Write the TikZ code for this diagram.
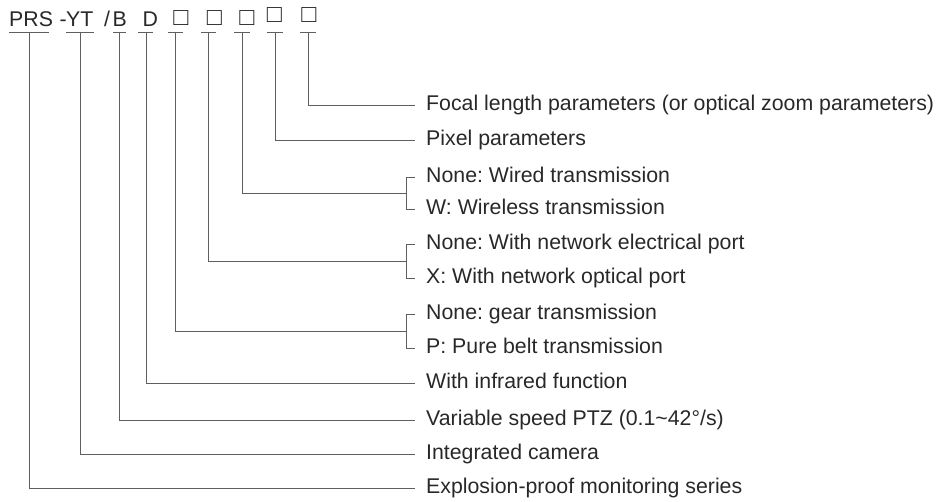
\documentclass[tikz,border=0pt]{standalone}
\usepackage{fontspec}
\setmainfont{Liberation Sans}
\usetikzlibrary{calc}
\definecolor{txt}{RGB}{40,40,40}
\definecolor{ln}{RGB}{95,95,95}
\frenchspacing
\begin{document}
\begin{tikzpicture}[x=1pt,y=-1pt,
  lab/.style={anchor=west, inner xsep=11pt, inner ysep=0pt, text height=11pt, text depth=0pt, font=\fontsize{21.3}{24}\selectfont\frenchspacing, text=txt},
  tok/.style={anchor=base west, inner sep=0pt, font=\fontsize{21.3}{24}\selectfont, text=txt},
  boxch/.style={anchor=center, inner sep=0pt, font=\fontsize{25}{28}\selectfont, text=txt},
  wire/.style={draw=ln, line width=0.9pt}]
\useasboundingbox (0,0) rectangle (936,501);
% top code
\node[tok] (t1) at (9,26) {PRS};
\node[tok] (t2) at (59.5,26) {-};
\node[tok] (t3) at (66,26) {YT};
\node[tok] (t4) at (104,26) {/};
\node[tok] (t5) at (112.5,26) {B};
\node[tok] (t6) at (142.5,26) {D};
\node[boxch] (b1) at (181,18.5) {□};
\node[boxch] (b2) at (214.5,18.5) {□};
\node[boxch] (b3) at (247,18.5) {□};
\node[boxch] (b4) at (274.5,15.5) {□};
\node[boxch] (b5) at (309,15.5) {□};
% stems
\coordinate (s1) at (29,32);
\coordinate (s2) at (80,32);
\coordinate (s3) at (119,32);
\coordinate (s4) at (146,32);
\coordinate (s5) at (175.5,32);
\coordinate (s6) at (208.5,32);
\coordinate (s7) at (242,32);
\coordinate (s8) at (275,32);
\coordinate (s9) at (308,32);
% underlines
\draw[wire] (9,32) -- (49,32);
\draw[wire] (66,32) -- (94,32);
\draw[wire] (113,32) -- (126,32);
\draw[wire] (138,32) -- (153,32);
\draw[wire] (168,32) -- (183,32);
\draw[wire] (201,32) -- (216,32);
\draw[wire] (234,32) -- (250,32);
\draw[wire] (267,32) -- (283,32);
\draw[wire] (300,32) -- (316,32);
% labels
\node[lab] (l9) at (415,105) {Focal length parameters (or optical zoom parameters)};
\node[lab] (l8) at (415,140) {Pixel parameters};
\node[lab] (l7a) at (415,177) {None: Wired transmission};
\node[lab] (l7b) at (415,209) {W: Wireless transmission};
\node[lab] (l6a) at (415,244) {None: With network electrical port};
\node[lab] (l6b) at (415,278) {X: With network optical port};
\node[lab] (l5a) at (415,314) {None: gear transmission};
\node[lab] (l5b) at (415,348) {P: Pure belt transmission};
\node[lab] (l4) at (415,383) {With infrared function};
\node[lab] (l3) at (415,420) {Variable speed PTZ (0.1\textasciitilde42°/s)};
\node[lab] (l2) at (415,454) {Integrated camera};
\node[lab] (l1) at (415,488) {Explosion-proof monitoring series};
% connectors
\draw[wire] (s9) |- (l9.west);
\draw[wire] (s8) |- (l8.west);
\draw[wire] (l7a.west) -- ++(-9,0) |- (l7b.west);
\draw[wire] (s7) |- ($(l7a.west)!.5!(l7b.west)+(-9,0)$);
\draw[wire] (l6a.west) -- ++(-9,0) |- (l6b.west);
\draw[wire] (s6) |- ($(l6a.west)!.5!(l6b.west)+(-9,0)$);
\draw[wire] (l5a.west) -- ++(-9,0) |- (l5b.west);
\draw[wire] (s5) |- ($(l5a.west)!.5!(l5b.west)+(-9,0)$);
\draw[wire] (s4) |- (l4.west);
\draw[wire] (s3) |- (l3.west);
\draw[wire] (s2) |- (l2.west);
\draw[wire] (s1) |- (l1.west);
\end{tikzpicture}
\end{document}
